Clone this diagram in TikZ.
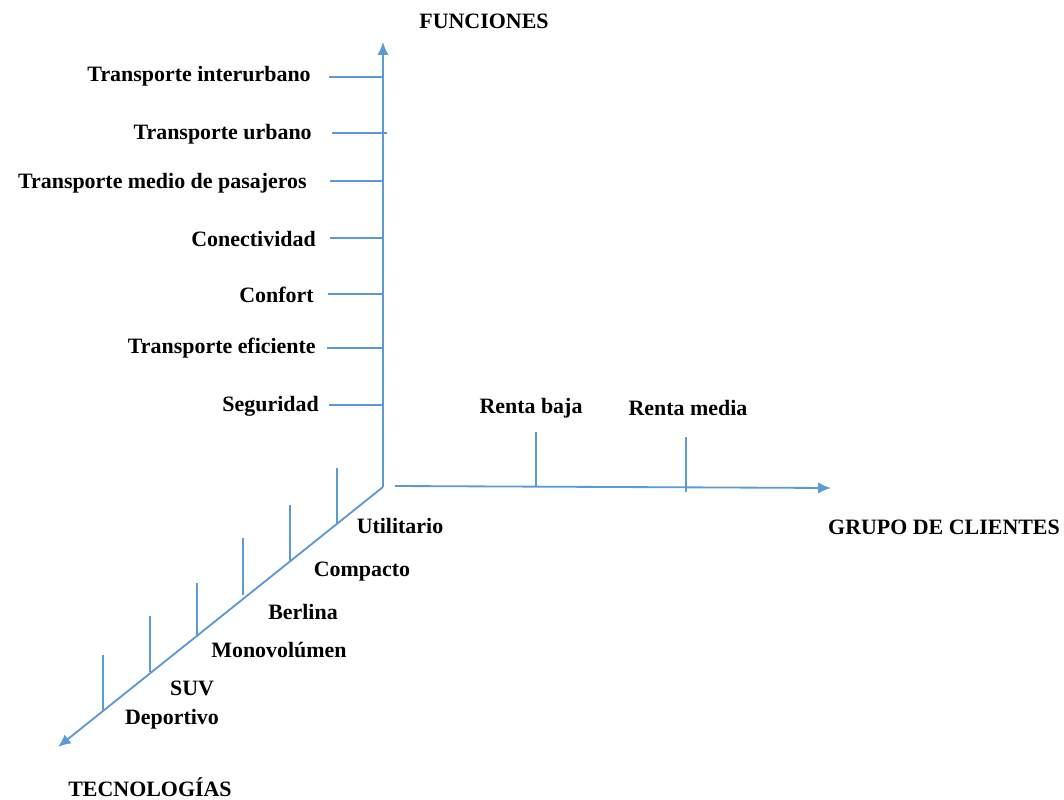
\documentclass[tikz,border=0pt]{standalone}
\usepackage{fontspec}
\setmainfont{Liberation Serif}
\usetikzlibrary{arrows.meta}
\definecolor{axisblue}{RGB}{91,155,213}

\begin{document}
\begin{tikzpicture}[x=0.025cm,y=-0.025cm,
        axis/.style={axisblue,line width=1.3pt,-{Latex[length=3.2mm,width=2.8mm]}},
        tick/.style={axisblue,line width=0.8pt},
        lbl/.style={font=\bfseries\fontsize{15.6}{18}\selectfont,inner sep=0pt}]
        \useasboundingbox (0,0) rectangle (1064,800);
        \coordinate (O) at (383,487);
        \coordinate (ytop) at (383,42);
        \coordinate (xstart) at (395,486);
        \coordinate (xend) at (831,488);
        \coordinate (zend) at (58,747);
        \draw[axis] (O) -- (ytop);
        \draw[axis] (xstart) -- (xend);
        \draw[axis] (O) -- (zend);
        \node[lbl] (funciones) at (484,21) {FUNCIONES};
        \node[lbl] (clientes) at (944,527) {GRUPO DE CLIENTES};
        \node[lbl] (tecnologias) at (150,787) {TECNOLOGÍAS};
        % funciones
        \coordinate (f1) at (329,77);
        \coordinate (f2) at (332,133);
        \coordinate (f3) at (330,181);
        \coordinate (f4) at (330,238);
        \coordinate (f5) at (328,294);
        \coordinate (f6) at (327,348);
        \coordinate (f7) at (329,405);
        \draw[tick] (f1) -- (f1 -| O);
        \draw[tick] (f2) -- ([xshift=0.1cm]f2 -| O);
        \draw[tick] (f3) -- (f3 -| O);
        \draw[tick] (f4) -- (f4 -| O);
        \draw[tick] (f5) -- (f5 -| O);
        \draw[tick] (f6) -- (f6 -| O);
        \draw[tick] (f7) -- (f7 -| O);
        \node[lbl,anchor=east] (interurbano) at (311,76) {Transporte interurbano};
        \node[lbl,anchor=east] (urbano) at (312,134) {Transporte urbano};
        \node[lbl,anchor=east] (pasajeros) at (307,183) {Transporte medio de pasajeros};
        \node[lbl,anchor=east] (conectividad) at (316,239) {Conectividad};
        \node[lbl,anchor=east] (confort) at (314,295) {Confort};
        \node[lbl,anchor=east] (eficiente) at (316,348) {Transporte eficiente};
        \node[lbl,anchor=east] (seguridad) at (319,406) {Seguridad};
        % grupo de clientes
        \coordinate (c1a) at (536,432);
        \coordinate (c1b) at (536,487);
        \coordinate (c2a) at (686,437);
        \coordinate (c2b) at (686,492);
        \draw[tick] (c1a) -- (c1b);
        \draw[tick] (c2a) -- (c2b);
        \node[lbl] (baja) at (531,408) {Renta baja};
        \node[lbl] (media) at (688,408) {Renta media};
        % tecnologias
        \coordinate (t1a) at (337,468);
        \coordinate (t1b) at (337,524);
        \coordinate (t2a) at (290,505);
        \coordinate (t2b) at (290,561);
        \coordinate (t3a) at (243,538);
        \coordinate (t3b) at (243,595);
        \coordinate (t4a) at (197,583);
        \coordinate (t4b) at (197,635);
        \coordinate (t5a) at (150,616);
        \coordinate (t5b) at (150,672);
        \coordinate (t6a) at (103,655);
        \coordinate (t6b) at (103,710);
        \draw[tick] (t1a) -- (t1b);
        \draw[tick] (t2a) -- (t2b);
        \draw[tick] (t3a) -- (t3b);
        \draw[tick] (t4a) -- (t4b);
        \draw[tick] (t5a) -- (t5b);
        \draw[tick] (t6a) -- (t6b);
        \node[lbl] (utilitario) at (400,526) {Utilitario};
        \node[lbl] (compacto) at (362,572) {Compacto};
        \node[lbl] (berlina) at (303,612) {Berlina};
        \node[lbl] (monovolumen) at (279,650) {Monovolúmen};
        \node[lbl] (suv) at (192,688) {SUV};
        \node[lbl] (deportivo) at (172,719) {Deportivo};
    \end{tikzpicture}
\end{document}
